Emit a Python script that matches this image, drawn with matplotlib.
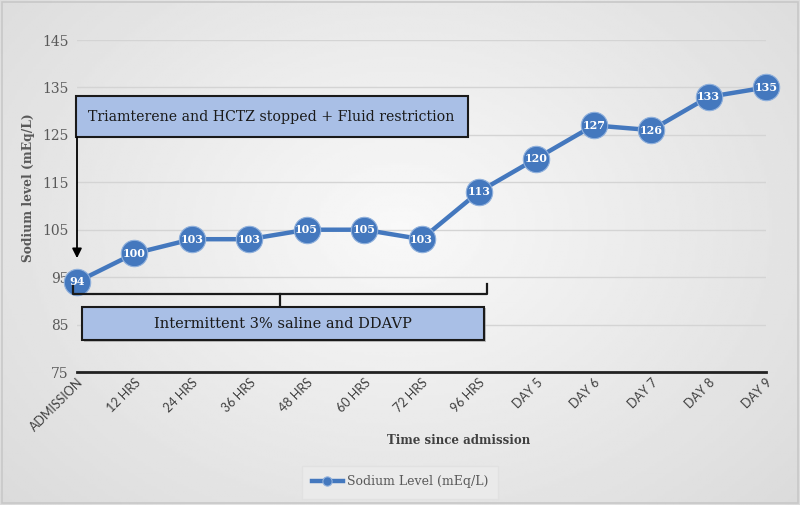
import matplotlib
matplotlib.use('Agg')
from matplotlib import pyplot as plt
from matplotlib.patches import Rectangle
import numpy as np

# data
times = ['ADMISSION', '12 HRS', '24 HRS', '36 HRS', '48 HRS', '60 HRS', '72 HRS',
         '96 HRS', 'DAY 5', 'DAY 6', 'DAY 7', 'DAY 8', 'DAY 9']
sodium = [94, 100, 103, 103, 105, 105, 103, 113, 120, 127, 126, 133, 135]
yticks = [75, 85, 95, 105, 115, 125, 135, 145]

blue = '#4478be'
grey = '#595959'
serif = ['DejaVu Serif']

fig = plt.figure(figsize=(8, 5.05), dpi=100)

# background gradient
bg = fig.add_axes([0, 0, 1, 1], zorder=-10)
yy, xx = np.mgrid[0:1:200j, 0:1:300j]
r = np.sqrt(((xx - 0.5) / 0.75) ** 2 + ((yy - 0.45) / 0.9) ** 2)
bg.imshow(0.975 - 0.13 * r, cmap='gray', vmin=0, vmax=1, aspect='auto',
          extent=[0, 1, 0, 1])
bg.add_patch(Rectangle((0.002, 0.003), 0.996, 0.994, fill=False,
                       ec='#c8c8c8', lw=1.2, transform=bg.transAxes))
bg.axis('off')

ax = fig.add_axes([77/800, 1 - 372/505, 689/800, 332/505])
ax.patch.set_alpha(0)
x = np.arange(len(times))
ax.plot(x, sodium, color=blue, lw=3.2, marker='o', ms=19, mfc=blue,
        mec='#8fb0dc', mew=0.8, label='Sodium Level (mEq/L)', clip_on=False, zorder=5)
for xi, v in zip(x, sodium):
    ax.text(xi, v, str(v), ha='center', va='center', color='white',
            fontsize=8, fontweight='bold', family=serif, zorder=6)

ax.set_xlim(0, len(times) - 1)
ax.set_ylim(75, 145)
ax.set_yticks(yticks)
ax.set_xticks(x)
ax.set_xticklabels(times, rotation=45, ha='right', rotation_mode='anchor',
                   family=['Lato', 'DejaVu Sans'], fontsize=9, color='#404040')
ax.set_yticklabels([str(t) for t in yticks], family=serif, fontsize=10, color=grey)
ax.tick_params(length=0, pad=6)
ax.tick_params(axis='x', pad=3)
ax.grid(axis='y', color='#d4d4d4', lw=1)
for s in ['top', 'right', 'left']:
    ax.spines[s].set_visible(False)
ax.spines['bottom'].set_color('#222222')
ax.spines['bottom'].set_linewidth(2)

# top annotation box and arrow
ax.add_patch(Rectangle((-0.02, 124.5), 6.83, 8.7, fc='#a9bfe6', ec='#1a1a1a',
                       lw=1.5, clip_on=False, zorder=7))
ax.text(3.39, 128.85, 'Triamterene and HCTZ stopped + Fluid restriction',
        ha='center', va='center', family=serif, fontsize=10.2, color='#1a1a1a',
        zorder=8)
ax.annotate('', xy=(0, 99.0), xytext=(0, 124.5),
            arrowprops=dict(arrowstyle='-|>', color='black', lw=1.3,
                            mutation_scale=14, shrinkA=0, shrinkB=0),
            annotation_clip=False, zorder=7)

# bracket and bottom box
ax.plot([-0.07, -0.07, 7.14, 7.14], [93.1, 91.4, 91.4, 93.6], color='#1a1a1a',
        lw=1.6, clip_on=False, zorder=7)
ax.plot([3.54, 3.54], [91.4, 88.7], color='#1a1a1a', lw=1.6, clip_on=False, zorder=7)
ax.add_patch(Rectangle((0.13, 81.4), 7.0, 7.0, fc='#9a9a9a', ec='none',
                       alpha=0.6, clip_on=False, zorder=6))
ax.add_patch(Rectangle((0.09, 81.7), 7.0, 7.0, fc='#a9bfe6', ec='#1a1a1a',
                       lw=1.5, clip_on=False, zorder=7))
ax.text(3.59, 85.2, 'Intermittent 3% saline and DDAVP', ha='center', va='center',
        family=serif, fontsize=10.5, color='#1a1a1a', zorder=8)

fig.text(29/800, 1 - 188/505, 'Sodium level (mEq/L)', rotation=90, ha='center',
         va='center', family=serif, fontsize=8.8, fontweight='bold', color=grey)
fig.text(459/800, 1 - 440/505, 'Time since admission', ha='center', va='center',
         family=serif, fontsize=8.5, fontweight='bold', color='#404040')

leg = fig.legend(handles=ax.get_lines()[:1], loc='center',
                 bbox_to_anchor=(400/800, 1 - 482/505), frameon=True,
                 prop={'family': serif, 'size': 9}, markerscale=0.35,
                 handlelength=2.5, handletextpad=0.3)
leg.get_frame().set_facecolor('#ececec')
leg.get_frame().set_edgecolor('#e0e0e0')
leg.get_frame().set_boxstyle('square', pad=0.4)
for t in leg.get_texts():
    t.set_color(grey)

fig.savefig('out.png', dpi=100)
